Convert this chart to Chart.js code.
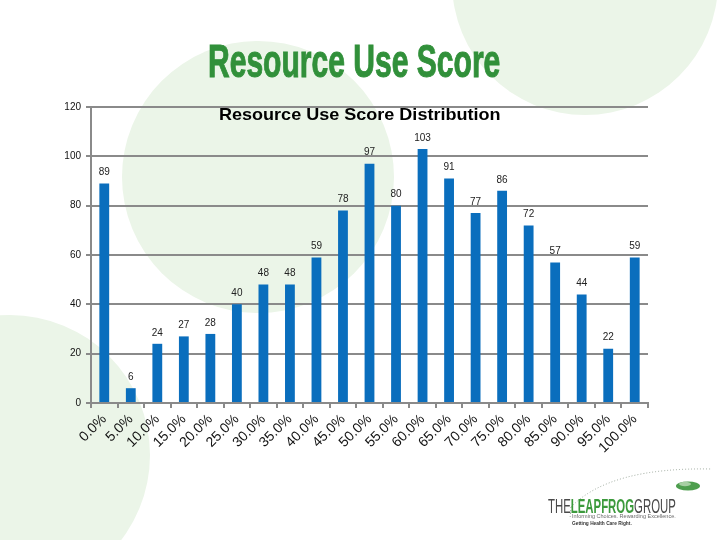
<!DOCTYPE html>
<html>
<head>
<meta charset="utf-8">
<script src="https://cdn.jsdelivr.net/npm/chart.js@4.4.1/dist/chart.umd.min.js"></script>
<style>
  html, body { margin: 0; padding: 0; background: #fff; }
  #wrap { position: relative; width: 720px; height: 540px; overflow: hidden; background: #fff; }
  .circle { position: absolute; border-radius: 50%; background: #ebf5e8; }
  #chart { position: absolute; left: 0; top: 0; }
  .fit { position: absolute; white-space: nowrap; transform-origin: 0 0; }
  #mainTitle { font-family: "Liberation Sans Narrow", "Liberation Sans", Arial, sans-serif; font-weight: bold; color: #31903a; font-size: 46px; line-height: 46px; -webkit-text-stroke: 1px #31903a; }
  #chartTitle { font-family: "Liberation Sans", Arial, sans-serif; font-weight: bold; color: #000; font-size: 17px; line-height: 17px; }
  #logo { font-family: "Liberation Sans Narrow", "Liberation Sans", Arial, sans-serif; font-size: 21px; line-height: 21px; color: #4a4a4a; }
  #logo b { color: #3c9a3c; }
  .tag { font-family: "Liberation Sans", Arial, sans-serif; font-size: 6px; line-height: 6px; color: #6a6a6a; }
  .tag2 { font-family: "Liberation Sans", Arial, sans-serif; font-size: 6px; line-height: 6px; color: #333; font-weight: bold; }
</style>
</head>
<body>
<div id="wrap">
  <div class="circle" style="left:122px; top:41px; width:272px; height:272px;"></div>
  <div class="circle" style="left:-130px; top:315px; width:280px; height:280px;"></div>
  <div class="circle" style="left:452px; top:-151px; width:266px; height:266px;"></div>
  <canvas id="chart" width="720" height="540"></canvas>
  <div id="mainTitle" class="fit" data-x="208" data-y="38" data-w="292">Resource Use Score</div>
  <div id="chartTitle" class="fit" data-x="219" data-y="106" data-w="281">Resource Use Score Distribution</div>
  <svg style="position:absolute;left:540px;top:455px" width="180" height="80">
    <path d="M 31 52 Q 70 12 172 14" fill="none" stroke="#9aa69a" stroke-width="1" stroke-dasharray="1,2"/>
    <path d="M 31 52 L 30 64" fill="none" stroke="#9aa69a" stroke-width="1" stroke-dasharray="1,2"/>
    <ellipse cx="148" cy="31" rx="12" ry="4.5" fill="#4e9e4e"/>
    <ellipse cx="145" cy="29" rx="6" ry="2.2" fill="#a7cfa3"/>
  </svg>
  <div id="logo" class="fit" data-x="548" data-y="495" data-w="128">THE<b>LEAPFROG</b>GROUP</div>
  <div class="tag fit" data-x="572" data-y="513" data-w="104">Informing Choices. Rewarding Excellence.</div>
  <div class="tag2 fit" data-x="572" data-y="520" data-w="60">Getting Health Care Right.</div>
</div>
<script>
// ---- data ----
const categories = ['0.0%','5.0%','10.0%','15.0%','20.0%','25.0%','30.0%','35.0%','40.0%','45.0%','50.0%',
                    '55.0%','60.0%','65.0%','70.0%','75.0%','80.0%','85.0%','90.0%','95.0%','100.0%'];
const counts = [89, 6, 24, 27, 28, 40, 48, 48, 59, 78, 97, 80, 103, 91, 77, 86, 72, 57, 44, 22, 59];
const yMin = 0, yMax = 120, yStep = 20;

// fit text blocks to measured widths
document.querySelectorAll('.fit').forEach(el => {
  el.style.left = el.dataset.x + 'px';
  el.style.top = el.dataset.y + 'px';
  const w = el.scrollWidth;
  const target = parseFloat(el.dataset.w);
  el.style.transform = 'scaleX(' + (target / w) + ')';
});

const valueLabels = {
  id: 'valueLabels',
  afterDatasetsDraw(chart) {
    const ctx = chart.ctx;
    const meta = chart.getDatasetMeta(0);
    ctx.save();
    ctx.font = '10px "Liberation Sans", Arial, sans-serif';
    ctx.fillStyle = '#222';
    ctx.textAlign = 'center';
    ctx.textBaseline = 'bottom';
    meta.data.forEach((bar, i) => {
      ctx.fillText(String(chart.data.datasets[0].data[i]), bar.x, bar.y - 6);
    });
    ctx.restore();
  }
};

new Chart(document.getElementById('chart'), {
  type: 'bar',
  data: {
    labels: categories,
    datasets: [{
      data: counts,
      backgroundColor: '#0a6ebd',
      borderWidth: 0,
      barPercentage: 0.37,
      categoryPercentage: 1.0
    }]
  },
  options: {
    responsive: false,
    animation: false,
    layout: { padding: { top: 107, right: 72, left: 0, bottom: 0 } },
    plugins: { legend: { display: false }, tooltip: { enabled: false }, title: { display: false } },
    scales: {
      x: {
        afterFit(scale) { scale.height = 137; },
        grid: { display: true, drawOnChartArea: false, drawTicks: true, tickLength: 5, color: '#8a8a8a', lineWidth: 2, offset: true },
        border: { display: true, color: '#8a8a8a', width: 2 },
        ticks: {
          minRotation: 45, maxRotation: 45, autoSkip: false, padding: 3,
          color: '#111',
          font: { family: '"Liberation Sans", Arial, sans-serif', size: 14 }
        }
      },
      y: {
        min: yMin, max: yMax,
        afterFit(scale) { scale.width = 91; },
        grid: { color: '#8a8a8a', lineWidth: 2, tickLength: 5, drawTicks: true },
        border: { display: true, color: '#8a8a8a', width: 2 },
        ticks: {
          stepSize: yStep, padding: 5, color: '#111',
          font: { family: '"Liberation Sans", Arial, sans-serif', size: 10 }
        }
      }
    }
  },
  plugins: [valueLabels]
});
</script>
</body>
</html>
